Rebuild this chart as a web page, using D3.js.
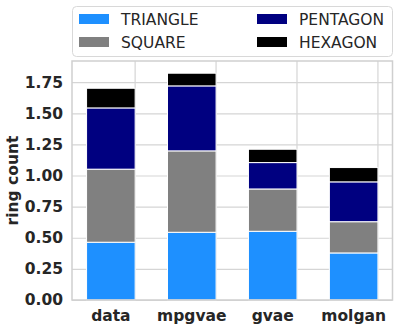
<!DOCTYPE html>
<html>
<head>
<meta charset="utf-8">
<script src="https://cdn.jsdelivr.net/npm/d3@7"></script>
<style>
  body { margin: 0; background: #fff; }
  text { font-family: "DejaVu Sans", sans-serif; fill: #262626; }
  .tick line { stroke: #d5d5d5; stroke-width: 1.2; }
</style>
</head>
<body>
<div id="chart"></div>
<script>
// Categories and stacked series (ring count per molecule)
var categories = ["data", "mpgvae", "gvae", "molgan"];
var seriesNames = ["TRIANGLE", "SQUARE", "PENTAGON", "HEXAGON"];
var triangle = [0.464, 0.544, 0.552, 0.378];
var square   = [0.587, 0.654, 0.340, 0.251];
var pentagon = [0.492, 0.522, 0.212, 0.320];
var hexagon  = [0.158, 0.102, 0.107, 0.115];
var yTicks = [0, 0.25, 0.5, 0.75, 1.0, 1.25, 1.5, 1.75];
var colors = ["#1e90ff", "#808080", "#000080", "#000000"];

var seriesValues = [triangle, square, pentagon, hexagon];

// Build rows for d3.stack
var rows = categories.map(function(c, i) {
  var row = {name: c};
  seriesNames.forEach(function(s, j) { row[s] = seriesValues[j][i]; });
  return row;
});

var margin = {top: 61, right: 6.5, bottom: 31, left: 72},
    width = 399 - margin.left - margin.right,
    height = 331 - margin.top - margin.bottom;

var root = d3.select("#chart")
  .append("svg")
    .attr("width", 399)
    .attr("height", 331);

var svg = root.append("g")
    .attr("transform", "translate(" + margin.left + "," + margin.top + ")");

// Scales
var x = d3.scaleBand()
  .domain(categories)
  .range([0, width])
  .paddingInner(0.4)
  .paddingOuter(0.18);

var y = d3.scaleLinear()
  .domain([0, 1.92])
  .range([height, 0]);

// Vertical grid at category centres
svg.append("g")
  .attr("transform", "translate(" + (x.bandwidth() / 2) + ",0)")
  .call(d3.axisBottom(x).tickSize(height).tickFormat(""))
  .call(function(g) { g.select(".domain").remove(); });

// Y axis with horizontal grid
var yAxis = svg.append("g")
  .call(d3.axisLeft(y).tickValues(yTicks).tickSize(-width).tickPadding(9).tickFormat(d3.format(".2f")));
yAxis.select(".domain").remove();
yAxis.selectAll("text")
  .attr("font-size", "15.5px")
  .attr("font-weight", "bold")
  .style("font-family", "DejaVu Sans, sans-serif")
  .attr("fill", "#262626");

// Stacked bars
var stacked = d3.stack().keys(seriesNames)(rows);

svg.selectAll(".layer")
  .data(stacked)
  .enter()
  .append("g")
    .attr("class", "layer")
    .attr("fill", function(d, i) { return colors[i]; })
  .selectAll("rect")
  .data(function(d) { return d; })
  .enter()
  .append("rect")
    .attr("x", function(d) { return x(d.data.name); })
    .attr("y", function(d) { return y(d[1]); })
    .attr("width", x.bandwidth())
    .attr("height", function(d) { return y(d[0]) - y(d[1]); })
    .attr("stroke", "#fff")
    .attr("stroke-width", 1);

// Frame
svg.append("rect")
  .attr("x", 0)
  .attr("y", 0)
  .attr("width", width)
  .attr("height", height)
  .attr("fill", "none")
  .attr("stroke", "#cfcfcf")
  .attr("stroke-width", 1.5);

// X labels
svg.append("g")
  .attr("transform", "translate(0," + height + ")")
  .call(d3.axisBottom(x).tickSize(0).tickPadding(10))
  .call(function(g) {
    g.select(".domain").remove();
    g.selectAll("text")
      .attr("font-size", "15.5px")
      .attr("font-weight", "bold")
      .style("font-family", "DejaVu Sans, sans-serif")
      .attr("fill", "#262626");
  });

// Y label
root.append("text")
  .attr("transform", "translate(17.5," + (margin.top + height / 2) + ") rotate(-90)")
  .attr("text-anchor", "middle")
  .attr("font-size", "15.5px")
  .attr("font-weight", "bold")
  .text("ring count");

// Legend
var legend = root.append("g");
legend.append("rect")
  .attr("x", 72.5)
  .attr("y", 6.5)
  .attr("width", 320)
  .attr("height", 50)
  .attr("rx", 4)
  .attr("fill", "#fff")
  .attr("stroke", "#d8d8d8")
  .attr("stroke-width", 1);

var legendPos = [
  {x: 79, y: 19}, {x: 79, y: 42}, {x: 257, y: 19}, {x: 257, y: 42}
];

seriesNames.forEach(function(s, i) {
  var p = legendPos[i];
  legend.append("rect")
    .attr("x", p.x)
    .attr("y", p.y - 5)
    .attr("width", 30)
    .attr("height", 10)
    .attr("fill", colors[i]);
  legend.append("text")
    .attr("x", p.x + 42)
    .attr("y", p.y)
    .attr("dy", "0.36em")
    .attr("font-size", "15.5px")
    .text(s);
});
</script>
</body>
</html>
